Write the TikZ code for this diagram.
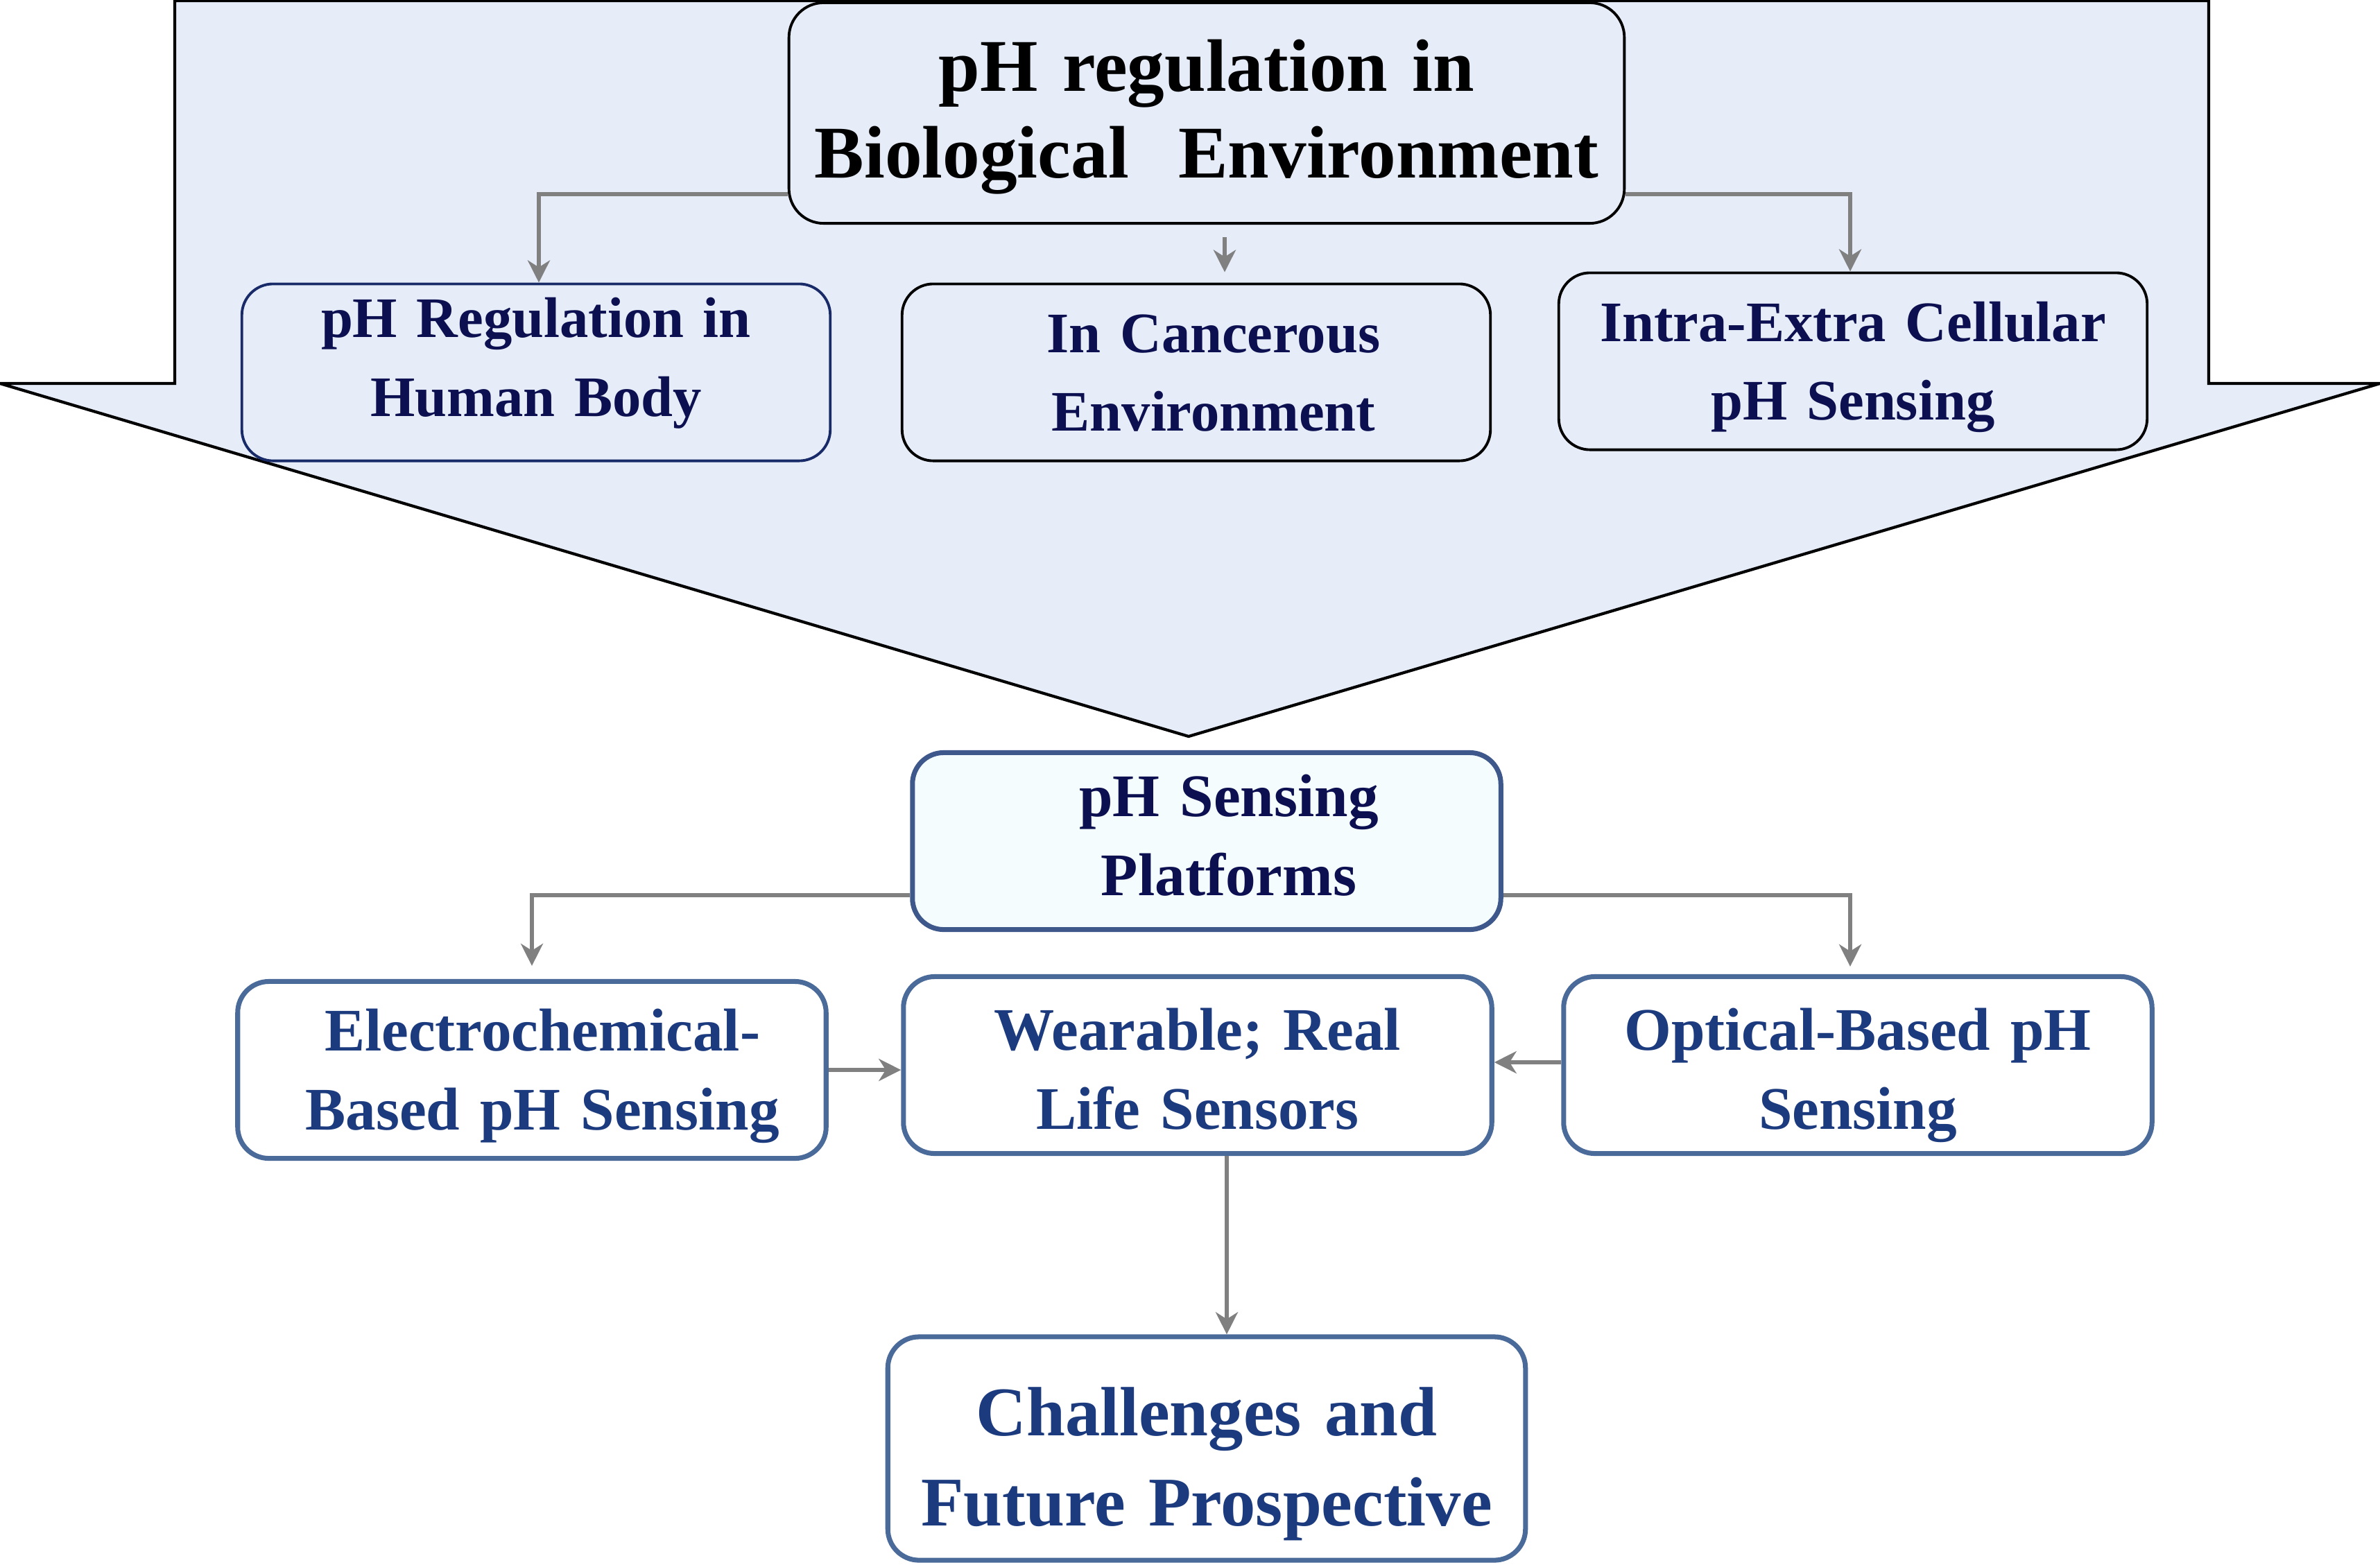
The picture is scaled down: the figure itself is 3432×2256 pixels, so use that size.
\documentclass[tikz,border=0pt]{standalone}
\usepackage{fontspec}
\setmainfont{Liberation Serif}
\usetikzlibrary{arrows.meta,calc}
\definecolor{bgblue}{RGB}{230,237,249}
\definecolor{navyT}{RGB}{12,16,80}
\definecolor{navyB}{RGB}{24,42,104}
\definecolor{lowT}{RGB}{28,58,126}
\definecolor{lowB}{RGB}{74,106,154}
\definecolor{spfill}{RGB}{244,252,254}
\definecolor{arrgray}{RGB}{128,128,128}
\tikzset{
  upbox/.style={draw=black, line width=1.1pt, fill=bgblue, rounded corners=0.45cm,
    minimum width=8.48cm, minimum height=2.55cm, text width=8.2cm, align=center,
    text=navyT, font=\bfseries\fontsize{23.5}{32.4}\selectfont, inner sep=0pt,
    text height=8pt+#1, text depth=24.5pt-#1},
  upbox/.default=0pt,
  lowbox/.style={draw=lowB, line width=2pt, fill=white, rounded corners=0.45cm,
    minimum width=8.48cm, minimum height=2.55cm, text width=8.2cm, align=center,
    text=lowT, font=\bfseries\fontsize{24.8}{32.4}\selectfont, inner sep=0pt,
    text height=8pt+#1, text depth=23.9pt-#1},
  lowbox/.default=0pt,
  arr/.style={draw=arrgray, line width=1.6pt, -{Stealth[length=0.32cm,width=0.32cm,inset=0.1cm]}},
}
\begin{document}
\begin{tikzpicture}[x=0.01cm,y=-0.01cm]
\useasboundingbox (0,0) rectangle (3432,2256);
% big arrow shape
\draw[fill=bgblue, draw=black, line width=1.2pt]
  (252,1) -- (3185,1) -- (3185,553) -- (3432,553) -- (1714,1062) -- (0,553) -- (252,553) -- cycle;
% top title
\node[draw=black, line width=1.1pt, fill=bgblue, rounded corners=0.5cm,
  minimum width=12.04cm, minimum height=3.18cm, text width=11.6cm, align=center,
  font=\bfseries\fontsize{30.5}{35.5}\selectfont, inner sep=0pt,
  text height=8pt-1.2pt, text depth=23.4pt+1.2pt] (top) at (1740,163)
  {pH regulation in\\Biological\ \ Environment};
% second row
\node[upbox=-6.2pt, draw=navyB] (hb) at (773,537) {pH Regulation in\\Human Body};
\node[upbox] (ce) at (1725,537) {\hspace*{0.5cm}In Cancerous\\\hspace*{0.5cm}Environment};
\node[upbox] (ie) at (2672,521) {Intra-Extra Cellular\\pH Sensing};
\draw[arr] ($(top.west)+(0,117)$) -| ([xshift=0.04cm]hb.north) ;
\draw[arr] ($(top.east)+(0,117)$) -| ([xshift=-0.04cm]ie.north);
\draw[arr] ($(top.south)+(26,18)$) -- ($(ce.north)+(41,-15)$);
% lower
\node[lowbox=-2.2pt, fill=spfill, draw=lowB!80!navyT] (sp) at (1740,1213)
  {\hspace*{0.64cm}\textcolor{navyT}{pH Sensing}\\\hspace*{0.64cm}\textcolor{navyT}{Platforms}};
\node[lowbox] (el) at (767,1543) {\hspace*{0.3cm}Electrochemical-\\\hspace*{0.3cm}Based pH Sensing};
\node[lowbox=1.9pt] (we) at (1727,1536) {Wearable; Real\\Life Sensors};
\node[lowbox=1.9pt] (op) at (2679,1536) {Optical-Based pH\\Sensing};
\node[draw=lowB, line width=2pt, fill=white, rounded corners=0.45cm,
  minimum width=9.19cm, minimum height=3.22cm, text width=9cm, align=center,
  text=lowT, inner sep=0pt, font=\bfseries\fontsize{28.6}{37}\selectfont,
  text height=8pt+3.7pt, text depth=26.1pt-3.7pt] (ch) at (1740,2089)
  {Challenges and\\Future Prospective};
\draw[arr, shorten >=0.19cm] ($(sp.west)+(0,78)$) -| (el.north);
\draw[arr, shorten >=0.11cm] ($(sp.east)+(0,78)$) -| ([xshift=-0.11cm]op.north);
\draw[arr] (el.east) -- (el.east -| we.west);
\draw[arr] ($(op.west)+(0,-4)$) -- ($(op.west -| we.east)+(0,-4)$);
\draw[arr] ($(we.south)+(42,0)$) -- ($(ch.north)+(29,0)$);
\end{tikzpicture}
\end{document}
